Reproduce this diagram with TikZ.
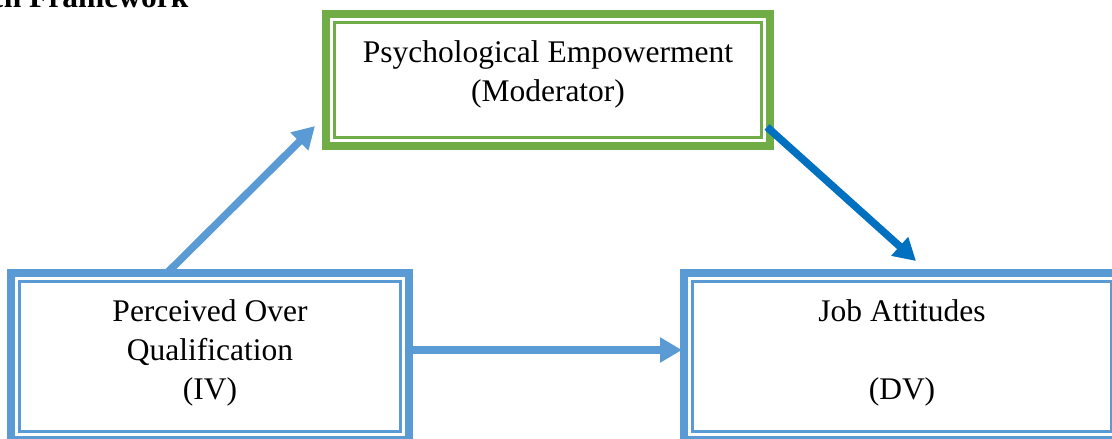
\documentclass[tikz,border=0pt]{standalone}
\usepackage{fontspec}
\setmainfont{Liberation Serif}
\usepackage{tikz}
\usetikzlibrary{arrows.meta,positioning}
\definecolor{fwblue}{RGB}{91,155,213}
\definecolor{fwgreen}{RGB}{112,173,71}
\definecolor{fwdarkblue}{RGB}{0,112,192}
\tikzstyle{varbox} = [rectangle, inner sep=0pt, outer sep=0pt, line width=8pt, align=center, text centered, font=\fontsize{31.5}{39}\selectfont]
\tikzstyle{innerline} = [line width=2.5pt]
\tikzstyle{link} = [line width=7.5pt, -{Triangle[length=22pt,width=24pt]}]

\begin{document}
\begin{tikzpicture}[x=1pt, y=-1pt]
\useasboundingbox (0,0) rectangle (1112,439);
% Title (cut off at the top)
\node (title) [anchor=base east, font=\fontsize{31.5}{39}\selectfont\bfseries] at (192,7) {Research Framework};

% Variables
\node (pe) [varbox, draw=fwgreen, minimum width=444pt, minimum height=132pt] at (548,80) {Psychological Empowerment\\(Moderator)\rule[-18.5pt]{0pt}{0pt}};
\node (poq) [varbox, draw=fwblue, minimum width=398pt, minimum height=167pt] at (210,356.5) {Perceived Over\\Qualification\\(IV)\rule[-14.5pt]{0pt}{0pt}};
\node (ja) [varbox, draw=fwblue, minimum width=436pt, minimum height=167pt, right=275pt of poq] {Job Attitudes\\ \mbox{}\\(DV)\rule[-14.5pt]{0pt}{0pt}};

% Inner frame lines
\foreach \n/\c in {pe/fwgreen, poq/fwblue, ja/fwblue}
  \draw[innerline, \c] ([shift={(8.5,8.5)}]\n.north west) rectangle ([shift={(-8.5,-8.5)}]\n.south east);

% Arrows
\draw[link, fwblue] ([xshift=-43pt]poq.north) -- ([shift={(-11,-20)}]pe.south west);
\draw[link, fwdarkblue] ([shift={(-3,-19)}]pe.south east) -- ([shift={(14,-12)}]ja.north);
\draw[link, fwblue] ([shift={(4,-6.5)}]poq.east) -- ([shift={(-2,-6.5)}]ja.west);
\end{tikzpicture}
\end{document}
